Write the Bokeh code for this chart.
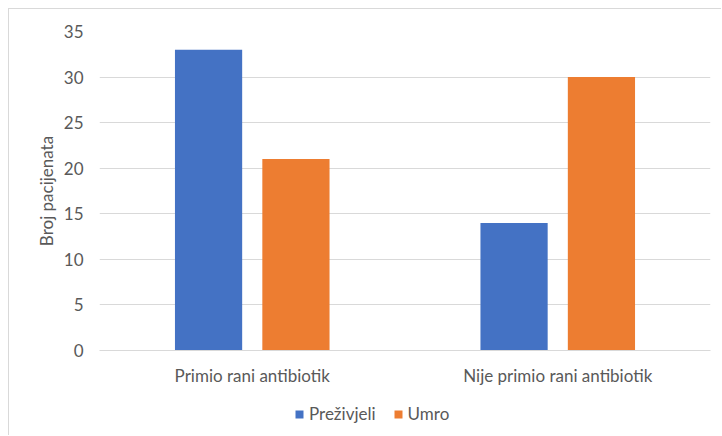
from bokeh.plotting import figure
from bokeh.layouts import column, row
from bokeh.models import FactorRange, ColumnDataSource, Legend, LegendItem, Range1d, FixedTicker, Spacer
from bokeh.transform import dodge
from bokeh.embed import file_html
from bokeh.resources import INLINE

categories = ["Primio rani antibiotik", "Nije primio rani antibiotik"]
prezivjeli = [33, 14]
umro = [21, 30]
series_names = ["Preživjeli", "Umro"]
y_ticks = [0, 5, 10, 15, 20, 25, 30, 35]
y_label = "Broj pacijenata"

BLUE = "#4472C4"
ORANGE = "#ED7D31"
GRID = "#d9d9d9"
TXT = "#595959"
FONT = "Lato"
FS = "17px"

src = ColumnDataSource(dict(cat=categories, prez=prezivjeli, umro=umro))

# main chart
p = figure(width=713, height=385,
           x_range=FactorRange(*categories, range_padding=0),
           y_range=Range1d(0, 35),
           output_backend="svg", toolbar_location=None,
           min_border_left=90, min_border_right=12, min_border_top=22, min_border_bottom=44)
p.styles = {"border-left": "1px solid #d9d9d9", "border-top": "1px solid #d9d9d9"}
p.outline_line_color = None
p.background_fill_color = "white"
p.border_fill_color = "white"

r1 = p.vbar(x=dodge("cat", -0.143, range=p.x_range), top="prez", width=0.22, bottom=0,
            source=src, fill_color=BLUE, line_color=None)
r2 = p.vbar(x=dodge("cat", 0.143, range=p.x_range), top="umro", width=0.22, bottom=0,
            source=src, fill_color=ORANGE, line_color=None)

p.xgrid.grid_line_color = None
p.ygrid.grid_line_color = GRID
p.ygrid.grid_line_width = 1

p.yaxis.ticker = FixedTicker(ticks=y_ticks)
p.yaxis.axis_line_color = None
p.yaxis.major_tick_line_color = None
p.yaxis.minor_tick_line_color = None
p.yaxis.major_label_standoff = 10
p.yaxis.axis_label = y_label
p.yaxis.axis_label_standoff = 4
p.yaxis.axis_label_text_font_style = "normal"
p.yaxis.axis_label_text_font = FONT
p.yaxis.axis_label_text_font_size = FS
p.yaxis.axis_label_text_color = TXT

p.xaxis.axis_line_color = GRID
p.xaxis.major_tick_line_color = None
p.xaxis.minor_tick_line_color = None
p.xaxis.major_label_standoff = 8

for ax in (p.xaxis, p.yaxis):
    ax.major_label_text_font = FONT
    ax.major_label_text_font_size = FS
    ax.major_label_text_color = TXT

# legend strip (same series, bars kept out of view, only the legend shows)
p2 = figure(width=713, height=42,
            x_range=FactorRange(*categories, range_padding=0),
            y_range=Range1d(100, 101),
            output_backend="svg", toolbar_location=None,
            x_axis_location=None, y_axis_location=None,
            min_border_left=0, min_border_right=0, min_border_top=0, min_border_bottom=0)
p2.styles = {"border-left": "1px solid #d9d9d9"}
p2.outline_line_color = None
p2.grid.grid_line_color = None
p2.border_fill_color = "white"
l1 = p2.vbar(x=dodge("cat", -0.143, range=p2.x_range), top="prez", width=0.22, bottom=0,
             source=src, fill_color=BLUE, line_color=None)
l2 = p2.vbar(x=dodge("cat", 0.143, range=p2.x_range), top="umro", width=0.22, bottom=0,
             source=src, fill_color=ORANGE, line_color=None)

legend = Legend(items=[LegendItem(label=series_names[0], renderers=[l1]),
                       LegendItem(label=series_names[1], renderers=[l2])],
                orientation="horizontal", location=(195, 11),
                padding=0, margin=0, spacing=17, label_standoff=5,
                glyph_width=10, glyph_height=10, label_height=20,
                border_line_color=None, background_fill_alpha=0,
                label_text_font=FONT, label_text_font_size=FS, label_text_color=TXT)
p2.add_layout(legend, "center")

layout = column(Spacer(height=8), row(Spacer(width=8), column(p, p2, spacing=0)), spacing=0)
open("out.html", "w").write(file_html(layout, INLINE))
